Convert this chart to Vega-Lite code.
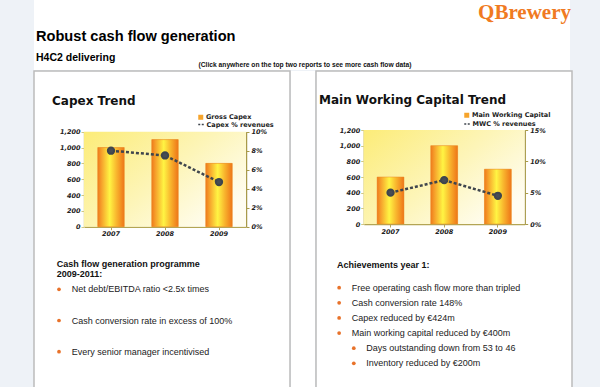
{
  "$schema": "https://vega.github.io/schema/vega-lite/v6.json",
  "background": "#eef2f7",
  "padding": {"left": 33, "top": 0, "right": 31, "bottom": 0},
  "config": {"view": {"stroke": null}, "lineBreak": "\n"},
  "datasets": {
    "header": [
      {"role": "brand", "text": "QBrewery"},
      {"role": "title", "text": "Robust cash flow generation"},
      {"role": "subtitle", "text": "H4C2 delivering"},
      {"role": "note", "text": "(Click anywhere on the top two reports to see more cash flow data)"}
    ],
    "capex": [
      {"year": "2007", "value": 1000, "pct": 8.0},
      {"year": "2008", "value": 1100, "pct": 7.5},
      {"year": "2009", "value": 800, "pct": 4.7}
    ],
    "mwc": [
      {"year": "2007", "value": 600, "pct": 5.0},
      {"year": "2008", "value": 1000, "pct": 7.0},
      {"year": "2009", "value": 700, "pct": 4.5}
    ],
    "left_text": [
      {"kind": "heading", "level": 0, "order": 0, "text": "Cash flow generation programme\n2009-2011:"},
      {"kind": "bullet", "level": 1, "order": 1, "text": "Net debt/EBITDA ratio <2.5x times"},
      {"kind": "bullet", "level": 1, "order": 2, "text": "Cash conversion rate in excess of 100%"},
      {"kind": "bullet", "level": 1, "order": 3, "text": "Every senior manager incentivised"}
    ],
    "right_text": [
      {"kind": "heading", "level": 0, "order": 0, "text": "Achievements year 1:"},
      {"kind": "bullet", "level": 1, "order": 1, "text": "Free operating cash flow more than tripled"},
      {"kind": "bullet", "level": 1, "order": 2, "text": "Cash conversion rate 148%"},
      {"kind": "bullet", "level": 1, "order": 3, "text": "Capex reduced by €424m"},
      {"kind": "bullet", "level": 1, "order": 4, "text": "Main working capital reduced by €400m"},
      {"kind": "bullet", "level": 2, "order": 5, "text": "Days outstanding down from 53 to 46"},
      {"kind": "bullet", "level": 2, "order": 6, "text": "Inventory reduced by €200m"}
    ]
  },
  "spacing": 0,
  "resolve": {"scale": {"fill": "independent", "stroke": "independent"}, "legend": {"fill": "independent", "stroke": "independent"}},
  "vconcat": [
    {
      "width": 536,
      "height": 70,
      "view": {"fill": "white", "stroke": null},
      "data": {"name": "header"},
      "layer": [
        {
          "transform": [{"filter": "datum.role === 'brand'"}],
          "mark": {"type": "text", "align": "right", "baseline": "alphabetic", "font": "Liberation Serif", "fontSize": 21, "fontWeight": "bold", "color": "#f07a22", "dx": 1},
          "encoding": {
            "x": {"datum": 1, "type": "quantitative", "scale": {"domain": [0, 1]}, "axis": null},
            "y": {"datum": 0.27, "type": "quantitative", "scale": {"domain": [0, 1], "reverse": true}, "axis": null},
            "text": {"field": "text"}
          }
        },
        {
          "transform": [{"filter": "datum.role === 'title'"}],
          "mark": {"type": "text", "align": "left", "baseline": "alphabetic", "font": "Liberation Sans", "fontSize": 14.6, "fontWeight": "bold", "color": "#000000", "dx": 2},
          "encoding": {
            "x": {"datum": 0, "type": "quantitative"},
            "y": {"datum": 0.59, "type": "quantitative"},
            "text": {"field": "text"}
          }
        },
        {
          "transform": [{"filter": "datum.role === 'subtitle'"}],
          "mark": {"type": "text", "align": "left", "baseline": "alphabetic", "font": "Liberation Sans", "fontSize": 10.5, "fontWeight": "bold", "color": "#000000", "dx": 2},
          "encoding": {
            "x": {"datum": 0, "type": "quantitative"},
            "y": {"datum": 0.871, "type": "quantitative"},
            "text": {"field": "text"}
          }
        },
        {
          "transform": [{"filter": "datum.role === 'note'"}],
          "mark": {"type": "text", "align": "center", "baseline": "alphabetic", "font": "Liberation Sans", "fontSize": 6.7, "fontWeight": "bold", "color": "#111111", "dx": 3},
          "encoding": {
            "x": {"datum": 0.5, "type": "quantitative"},
            "y": {"datum": 0.95, "type": "quantitative"},
            "text": {"field": "text"}
          }
        }
      ]
    },
    {
      "spacing": 0,
      "resolve": {"scale": {"fill": "independent", "stroke": "independent"}, "legend": {"fill": "independent", "stroke": "independent"}},
      "hconcat": [
        {
          "width": 256,
          "height": 316,
          "view": {"fill": "white", "stroke": "#bcbcbc", "strokeWidth": 1.5, "strokeDash": [572, 256, 316]},
          "title": {"text": "Capex Trend", "anchor": "start", "frame": "group", "orient": "top", "offset": -45.5, "dx": 18, "baseline": "alphabetic", "font": "DejaVu Sans", "fontSize": 12, "fontWeight": "bold", "color": "#111111"},
          "layer": [
            {
              "data": {"values": [{}]},
              "mark": {"type": "rect", "fill": {"gradient": "linear", "x1": 0, "y1": 0, "x2": 1, "y2": 0.7, "stops": [{"offset": 0, "color": "#fcec78"}, {"offset": 0.55, "color": "#fdf5b8"}, {"offset": 1, "color": "#fffdf2"}]}},
              "encoding": {
                "x": {"datum": 0, "type": "quantitative", "scale": {"domain": [0, 1], "range": [50, 212]}, "axis": null},
                "x2": {"datum": 1},
                "y": {"datum": 0, "type": "quantitative", "scale": {"domain": [0, 1], "range": [155.7, 60.7]}, "axis": null},
                "y2": {"datum": 1}
              }
            },
            {
              "data": {"name": "capex"},
              "layer": [
                {
                  "layer": [
                    {
                      "mark": {"type": "bar", "width": {"band": 0.49}},
                      "encoding": {
                        "x": {"field": "year", "type": "ordinal", "scale": {"range": [50, 212], "paddingInner": 0, "paddingOuter": 0},
                          "axis": {"orient": "bottom", "offset": -160.3, "title": null, "labelAngle": 0, "domainColor": "#b3a554", "domainWidth": 1.5, "tickColor": "#b3a554", "tickSize": 3, "labelPadding": 1, "labelFont": "DejaVu Sans", "labelFontSize": 6.5, "labelFontWeight": "bold", "labelFontStyle": "italic", "labelColor": "#222222", "grid": false}},
                        "y": {"field": "value", "type": "quantitative", "scale": {"domain": [0, 1200], "range": [155.7, 60.7], "nice": false},
                          "axis": {"orient": "left", "offset": -50, "title": null, "values": [0, 200, 400, 600, 800, 1000, 1200], "format": ",.0f", "grid": false, "domainColor": "#cfc784", "domainWidth": 1.5, "tickColor": "#cfc784", "tickSize": 3, "labelPadding": 1, "labelFont": "DejaVu Sans", "labelFontSize": 6.5, "labelFontWeight": "bold", "labelFontStyle": "italic", "labelColor": "#222222"}},
                        "fill": {"datum": "Gross Capex", "type": "nominal", "scale": {"range": ["#f6a42c"]},
                          "legend": {"orient": "none", "legendX": 163.5, "legendY": 43, "title": null, "symbolType": "square", "symbolSize": 25, "symbolStrokeWidth": 0, "labelFont": "DejaVu Sans", "labelFontSize": 6.5, "labelFontWeight": "bold", "labelColor": "#222222", "labelOffset": 2, "padding": 0}}
                      }
                    },
                    {
                      "mark": {"type": "bar", "width": {"band": 0.49}, "stroke": "#e98a2a", "strokeWidth": 0.5,
                        "fill": {"gradient": "linear", "x1": 0, "y1": 0, "x2": 1, "y2": 0, "stops": [{"offset": 0, "color": "#ef7a1c"}, {"offset": 0.15, "color": "#f6a32c"}, {"offset": 0.45, "color": "#fff443"}, {"offset": 0.72, "color": "#f8b32d"}, {"offset": 1, "color": "#ee7518"}]}},
                      "encoding": {
                        "x": {"field": "year", "type": "ordinal"},
                        "y": {"field": "value", "type": "quantitative"}
                      }
                    }
                  ]
                },
                {
                  "mark": {"type": "line", "strokeDash": [3, 2], "strokeWidth": 2.5, "point": {"filled": true, "size": 40, "color": "#474d55"}},
                  "encoding": {
                    "x": {"field": "year", "type": "ordinal"},
                    "y": {"field": "pct", "type": "quantitative", "scale": {"domain": [0, 10], "range": [155.7, 60.7], "nice": false},
                      "axis": {"orient": "right", "offset": -44, "title": null, "values": [0, 2, 4, 6, 8, 10], "labelExpr": "datum.value + '%'", "grid": false, "domainColor": "#a89a4a", "domainWidth": 1.5, "tickColor": "#a89a4a", "tickSize": 3, "labelPadding": 2, "labelFont": "DejaVu Sans", "labelFontSize": 6.5, "labelFontWeight": "bold", "labelFontStyle": "italic", "labelColor": "#222222"}},
                    "stroke": {"datum": "Capex % revenues", "type": "nominal", "scale": {"range": ["#3f454d"]},
                      "legend": {"orient": "none", "legendX": 163.5, "legendY": 50, "title": null, "symbolType": "stroke", "symbolSize": 30, "symbolStrokeWidth": 1.5, "symbolDash": [2, 1.5], "labelFont": "DejaVu Sans", "labelFontSize": 6.5, "labelFontWeight": "bold", "labelColor": "#222222", "labelOffset": 2, "padding": 0}}
                  }
                }
              ],
              "resolve": {"scale": {"y": "independent"}}
            },
            {
              "data": {"name": "left_text"},
              "layer": [
                {
                  "transform": [{"filter": "datum.kind === 'heading'"}],
                  "mark": {"type": "text", "align": "left", "baseline": "middle", "font": "Liberation Sans", "fontSize": 9, "fontWeight": "bold", "lineHeight": 9.5, "color": "#111111"},
                  "encoding": {
                    "x": {"field": "level", "type": "quantitative", "scale": {"domain": [0, 1], "range": [22.7, 37.7]}, "axis": null},
                    "y": {"datum": 0.2, "type": "quantitative", "scale": {"domain": [1, 3], "range": [218.3, 280.7]}, "axis": null},
                    "text": {"field": "text"}
                  }
                },
                {
                  "transform": [{"filter": "datum.kind !== 'heading'"}],
                  "mark": {"type": "text", "align": "left", "baseline": "middle", "font": "Liberation Sans", "fontSize": 9, "color": "#222222"},
                  "encoding": {
                    "x": {"field": "level", "type": "quantitative"},
                    "y": {"field": "order", "type": "quantitative"},
                    "text": {"field": "text"}
                  }
                },
                {
                  "transform": [{"filter": "datum.kind !== 'heading'"}],
                  "mark": {"type": "circle", "size": 14, "color": "#e8722a", "opacity": 1},
                  "encoding": {
                    "x": {"field": "level", "type": "quantitative"},
                    "xOffset": {"value": -12.7},
                    "y": {"field": "order", "type": "quantitative"}
                  }
                }
              ]
            }
          ],
          "resolve": {"scale": {"x": "independent", "y": "independent"}}
        },
        {
          "width": 24,
          "height": 316,
          "view": {"fill": "white", "stroke": null},
          "data": {"values": []},
          "mark": "text",
          "encoding": {}
        },
        {
          "width": 256,
          "height": 316,
          "view": {"fill": "white", "stroke": "#bcbcbc", "strokeWidth": 1.5, "strokeDash": [572, 256, 316]},
          "title": {"text": "Main Working Capital Trend", "anchor": "start", "frame": "group", "orient": "top", "offset": -45, "dx": 3, "baseline": "alphabetic", "font": "DejaVu Sans", "fontSize": 12, "fontWeight": "bold", "color": "#111111"},
          "layer": [
            {
              "data": {"values": [{}]},
              "mark": {"type": "rect", "fill": {"gradient": "linear", "x1": 0, "y1": 0, "x2": 1, "y2": 0.7, "stops": [{"offset": 0, "color": "#fcec78"}, {"offset": 0.55, "color": "#fdf5b8"}, {"offset": 1, "color": "#fffdf2"}]}},
              "encoding": {
                "x": {"datum": 0, "type": "quantitative", "scale": {"domain": [0, 1], "range": [47.7, 208.7]}, "axis": null},
                "x2": {"datum": 1},
                "y": {"datum": 0, "type": "quantitative", "scale": {"domain": [0, 1], "range": [153, 59]}, "axis": null},
                "y2": {"datum": 1}
              }
            },
            {
              "data": {"name": "mwc"},
              "layer": [
                {
                  "layer": [
                    {
                      "mark": {"type": "bar", "width": {"band": 0.5}},
                      "encoding": {
                        "x": {"field": "year", "type": "ordinal", "scale": {"range": [47.7, 208.7], "paddingInner": 0, "paddingOuter": 0},
                          "axis": {"orient": "bottom", "offset": -163, "title": null, "labelAngle": 0, "domainColor": "#b3a554", "domainWidth": 1.5, "tickColor": "#b3a554", "tickSize": 3, "labelPadding": 1, "labelFont": "DejaVu Sans", "labelFontSize": 6.5, "labelFontWeight": "bold", "labelFontStyle": "italic", "labelColor": "#222222", "grid": false}},
                        "y": {"field": "value", "type": "quantitative", "scale": {"domain": [0, 1200], "range": [153, 59], "nice": false},
                          "axis": {"orient": "left", "offset": -47.7, "title": null, "values": [0, 200, 400, 600, 800, 1000, 1200], "format": ",.0f", "grid": false, "domainColor": "#cfc784", "domainWidth": 1.5, "tickColor": "#cfc784", "tickSize": 3, "labelPadding": 1, "labelFont": "DejaVu Sans", "labelFontSize": 6.5, "labelFontWeight": "bold", "labelFontStyle": "italic", "labelColor": "#222222"}},
                        "fill": {"datum": "Main Working Capital", "type": "nominal", "scale": {"range": ["#f6a42c"]},
                          "legend": {"orient": "none", "legendX": 147.5, "legendY": 41, "title": null, "symbolType": "square", "symbolSize": 25, "symbolStrokeWidth": 0, "labelFont": "DejaVu Sans", "labelFontSize": 6.5, "labelFontWeight": "bold", "labelColor": "#222222", "labelOffset": 2, "padding": 0}}
                      }
                    },
                    {
                      "mark": {"type": "bar", "width": {"band": 0.5}, "stroke": "#e98a2a", "strokeWidth": 0.5,
                        "fill": {"gradient": "linear", "x1": 0, "y1": 0, "x2": 1, "y2": 0, "stops": [{"offset": 0, "color": "#ef7a1c"}, {"offset": 0.15, "color": "#f6a32c"}, {"offset": 0.45, "color": "#fff443"}, {"offset": 0.72, "color": "#f8b32d"}, {"offset": 1, "color": "#ee7518"}]}},
                      "encoding": {
                        "x": {"field": "year", "type": "ordinal"},
                        "y": {"field": "value", "type": "quantitative"}
                      }
                    }
                  ]
                },
                {
                  "mark": {"type": "line", "strokeDash": [3, 2], "strokeWidth": 2.5, "point": {"filled": true, "size": 40, "color": "#474d55"}},
                  "encoding": {
                    "x": {"field": "year", "type": "ordinal"},
                    "y": {"field": "pct", "type": "quantitative", "scale": {"domain": [0, 15], "range": [153, 59], "nice": false},
                      "axis": {"orient": "right", "offset": -47.3, "title": null, "values": [0, 5, 10, 15], "labelExpr": "datum.value + '%'", "grid": false, "domainColor": "#a89a4a", "domainWidth": 1.5, "tickColor": "#a89a4a", "tickSize": 3, "labelPadding": 2, "labelFont": "DejaVu Sans", "labelFontSize": 6.5, "labelFontWeight": "bold", "labelFontStyle": "italic", "labelColor": "#222222"}},
                    "stroke": {"datum": "MWC % revenues", "type": "nominal", "scale": {"range": ["#3f454d"]},
                      "legend": {"orient": "none", "legendX": 147.5, "legendY": 49.5, "title": null, "symbolType": "stroke", "symbolSize": 30, "symbolStrokeWidth": 1.5, "symbolDash": [2, 1.5], "labelFont": "DejaVu Sans", "labelFontSize": 6.5, "labelFontWeight": "bold", "labelColor": "#222222", "labelOffset": 2, "padding": 0}}
                  }
                }
              ],
              "resolve": {"scale": {"y": "independent"}}
            },
            {
              "data": {"name": "right_text"},
              "layer": [
                {
                  "transform": [{"filter": "datum.kind === 'heading'"}],
                  "mark": {"type": "text", "align": "left", "baseline": "middle", "font": "Liberation Sans", "fontSize": 9, "fontWeight": "bold", "color": "#111111"},
                  "encoding": {
                    "x": {"field": "level", "type": "quantitative", "scale": {"domain": [0, 2], "range": [21, 50.3]}, "axis": null},
                    "y": {"datum": -0.5, "type": "quantitative", "scale": {"domain": [1, 6], "range": [216.7, 292.3]}, "axis": null},
                    "text": {"field": "text"}
                  }
                },
                {
                  "transform": [{"filter": "datum.kind !== 'heading'"}],
                  "mark": {"type": "text", "align": "left", "baseline": "middle", "font": "Liberation Sans", "fontSize": 9, "color": "#222222"},
                  "encoding": {
                    "x": {"field": "level", "type": "quantitative"},
                    "y": {"field": "order", "type": "quantitative"},
                    "text": {"field": "text"}
                  }
                },
                {
                  "transform": [{"filter": "datum.kind !== 'heading'"}],
                  "mark": {"type": "circle", "size": 14, "color": "#e8722a", "opacity": 1},
                  "encoding": {
                    "x": {"field": "level", "type": "quantitative"},
                    "xOffset": {"value": -12.5},
                    "y": {"field": "order", "type": "quantitative"}
                  }
                }
              ]
            }
          ],
          "resolve": {"scale": {"x": "independent", "y": "independent"}}
        }
      ]
    }
  ]
}
